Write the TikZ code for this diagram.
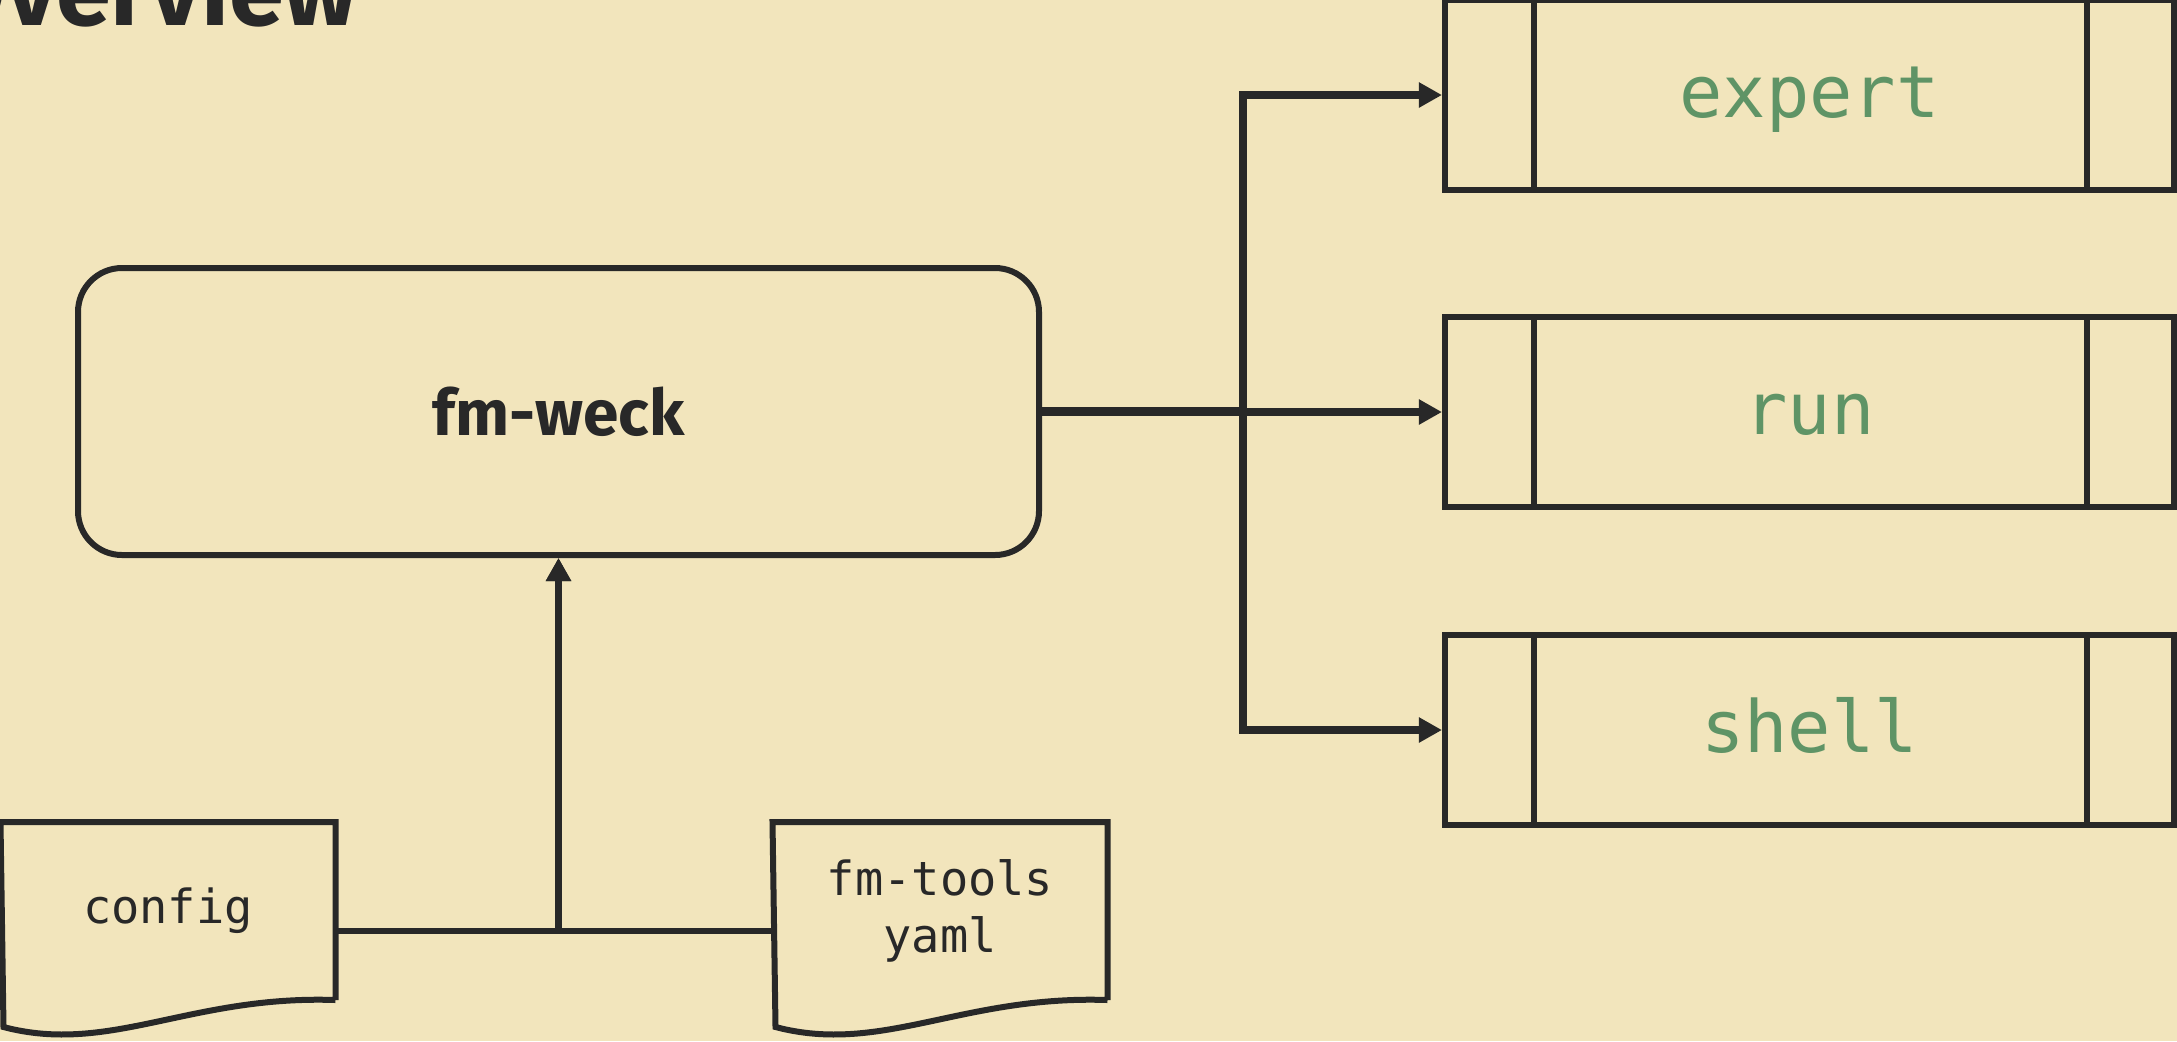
\documentclass[tikz,border=0pt]{standalone}
\usepackage{xcolor}
\usepackage{fontspec}
\setmainfont{Fira Sans}
\setmonofont{DejaVu Sans Mono}
\usetikzlibrary{arrows.meta}

\definecolor{paper}{HTML}{F2E5BC}
\definecolor{ink}{HTML}{282828}
\definecolor{leaf}{HTML}{5F9466}

\begin{document}
\begin{tikzpicture}[x=0.5pt,y=-0.5pt,line width=3pt,color=ink,
    arr/.style={-{Triangle[length=11.6pt,width=12pt]},line width=3.3pt},
    thickarr/.style={arr,line width=4.2pt},
    cmd/.style={draw,rectangle,minimum width=364.5pt,minimum height=95pt,inner sep=0pt,
      text height=22pt,text depth=0pt,text=leaf,font=\fontsize{36}{40}\selectfont\ttfamily},
    doc/.style={rectangle,minimum width=164.5pt,minimum height=86pt,inner sep=0pt,
      align=center,font=\fontsize{23.5}{28.5}\selectfont\ttfamily}]

          \useasboundingbox (0,0) rectangle (2177,1041);
          \clip (0,0) rectangle (2177,1041);
          \fill[paper] (0,0) rectangle (2177,1041);

          \node[anchor=base east,inner sep=0pt,font=\fontsize{49.5}{55}\selectfont\bfseries] (title) at (361,25) {Overview};

          \node[draw,rounded corners=22pt,minimum width=480.5pt,minimum height=143.5pt,%
          font=\fontsize{32}{36}\selectfont\bfseries] (fmweck) at (558.5,411.5) {fm-weck};

          \node[cmd] (expert) at (1809.5,95) {expert};
          \node[cmd] (run) at (1809.5,412) {run};
          \node[cmd] (shell) at (1809.5,730) {shell};

          \foreach \n in {expert,run,shell}{
            \draw ([xshift=46pt]\n.north west) -- ([xshift=46pt]\n.south west);
            \draw ([xshift=-45pt]\n.north east) -- ([xshift=-45pt]\n.south east);
          }

          \coordinate (split) at (1243,411.5);
          \foreach \n in {expert,run,shell}
            \draw[thickarr] (fmweck.east) -- (split) |- (\n.west);

          \node[doc] (config) at (168,911) {config};
          \node[doc] (yaml) at (940,911) {fm-tools\\yaml};

          \draw (config.south east) -- (config.north east) -- (config.north west) -- (3.5,1027)
            .. controls (110,1055) and (190,995) .. (config.south east);
          \draw (yaml.south east) -- (yaml.north east) -- (yaml.north west) -- (775.5,1027)
            .. controls (882,1055) and (962,995) .. (yaml.south east);

          \draw[arr] ([yshift=-10pt]config.east) -| (fmweck.south);
          \draw[arr] ([yshift=-10pt]yaml.west) -| (fmweck.south);

\end{tikzpicture}
\end{document}
